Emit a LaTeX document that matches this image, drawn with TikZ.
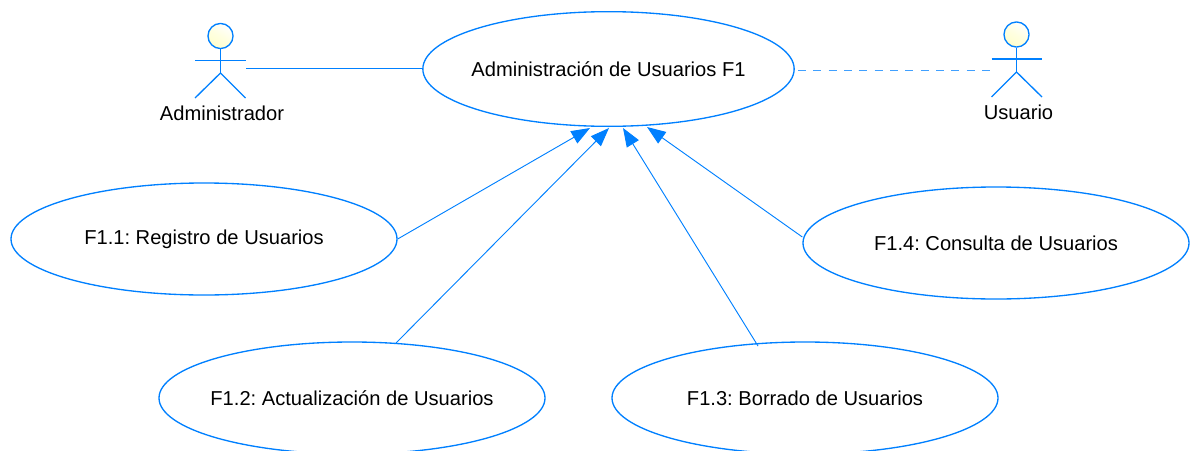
\documentclass[tikz,border=0pt]{standalone}
\usepackage{fontspec}
\setmainfont{Liberation Sans}
\usetikzlibrary{shapes.geometric,arrows.meta}
\definecolor{umlblue}{RGB}{0,128,255}
\definecolor{headyel}{RGB}{255,255,205}
\newcommand{\uselabel}[1]{\makebox[0pt][c]{#1}}
\frenchspacing
\tikzset{
  usecase/.style={draw=umlblue,line width=1pt,ellipse,minimum width=289.5pt,minimum height=84pt,inner sep=0pt,fill=white,font=\fontsize{15.1pt}{18pt}\selectfont,text=black},
  mainuse/.style={usecase,minimum width=278.5pt,minimum height=86pt},
  head/.style={circle,draw=umlblue,line width=1pt,minimum size=18.8pt,inner sep=0pt,top color=white,bottom color=headyel,middle color=headyel!60,shading angle=-30},
  limb/.style={draw=umlblue,line width=1pt},
  assoc/.style={draw=umlblue,line width=0.7pt},
  dep/.style={draw=umlblue!75,line width=1pt,dash pattern=on 6pt off 5.5pt},
  incl/.style={draw=umlblue,line width=0.7pt,-{Triangle[length=14pt,width=10.5pt,fill=umlblue]}},
  actorname/.style={inner sep=0pt,text=black,font=\fontsize{15.1pt}{18pt}\selectfont}
}
\begin{document}
\begin{tikzpicture}[x=0.75pt,y=-0.75pt]
\useasboundingbox (0,0) rectangle (1195,450);
\node[mainuse] (main) at (608.5,69) {\uselabel{Administración de Usuarios F1}};
\node[usecase] (f11) at (204,239) {\uselabel{F1.1: Registro de Usuarios}};
\node[usecase] (f12) at (352,398) {\uselabel{F1.2: Actualización de Usuarios}};
\node[usecase] (f13) at (805,398) {\uselabel{F1.3: Borrado de Usuarios}};
\node[usecase] (f14) at (996,243) {\uselabel{F1.4: Consulta de Usuarios}};
% left actor
\node[head] (ah) at (220.5,36) {};
\coordinate (ahip) at (220.5,73);
\coordinate (ala) at (195,60.5);
\coordinate (ara) at (245.5,60.5);
\coordinate (all) at (195,98);
\coordinate (arl) at (245.5,98);
\draw[limb] (ah.south) -- (ahip);
\draw[limb] (ala) -- (ara);
\draw[limb] (all) -- (ahip) -- (arl);
\node[actorname] (an) at (222,113) {Administrador};
% right actor
\node[head] (uh) at (1016.5,34.5) {};
\coordinate (uhip) at (1016.5,72);
\coordinate (ula) at (991.5,59);
\coordinate (ura) at (1042,59);
\coordinate (ull) at (991.5,97);
\coordinate (url) at (1042,97);
\draw[limb] (uh.south) -- (uhip);
\draw[limb] (ula) -- (ura);
\draw[limb] (ull) -- (uhip) -- (url);
\node[actorname] (un) at (1018.5,112) {Usuario};
% connector ends
\coordinate (a1) at (246,68.5);
\coordinate (d1) at (798,70.5);
\coordinate (d2) at (991,70.5);
\coordinate (t1) at (590,128);
\coordinate (t2) at (609,128);
\coordinate (t3) at (623,128);
\coordinate (t4) at (647,127);
\coordinate (s2) at (396,343);
\coordinate (s3) at (758,346);
\draw[assoc] (a1) -- (main.west |- a1);
\draw[dep] (d1) -- (d2);
\draw[incl] (f11.east) -- (t1);
\draw[incl] (s2) -- (t2);
\draw[incl] (s3) -- (t3);
\draw[incl] (f14.west) ++(0,-6) -- (t4);
\end{tikzpicture}
\end{document}
